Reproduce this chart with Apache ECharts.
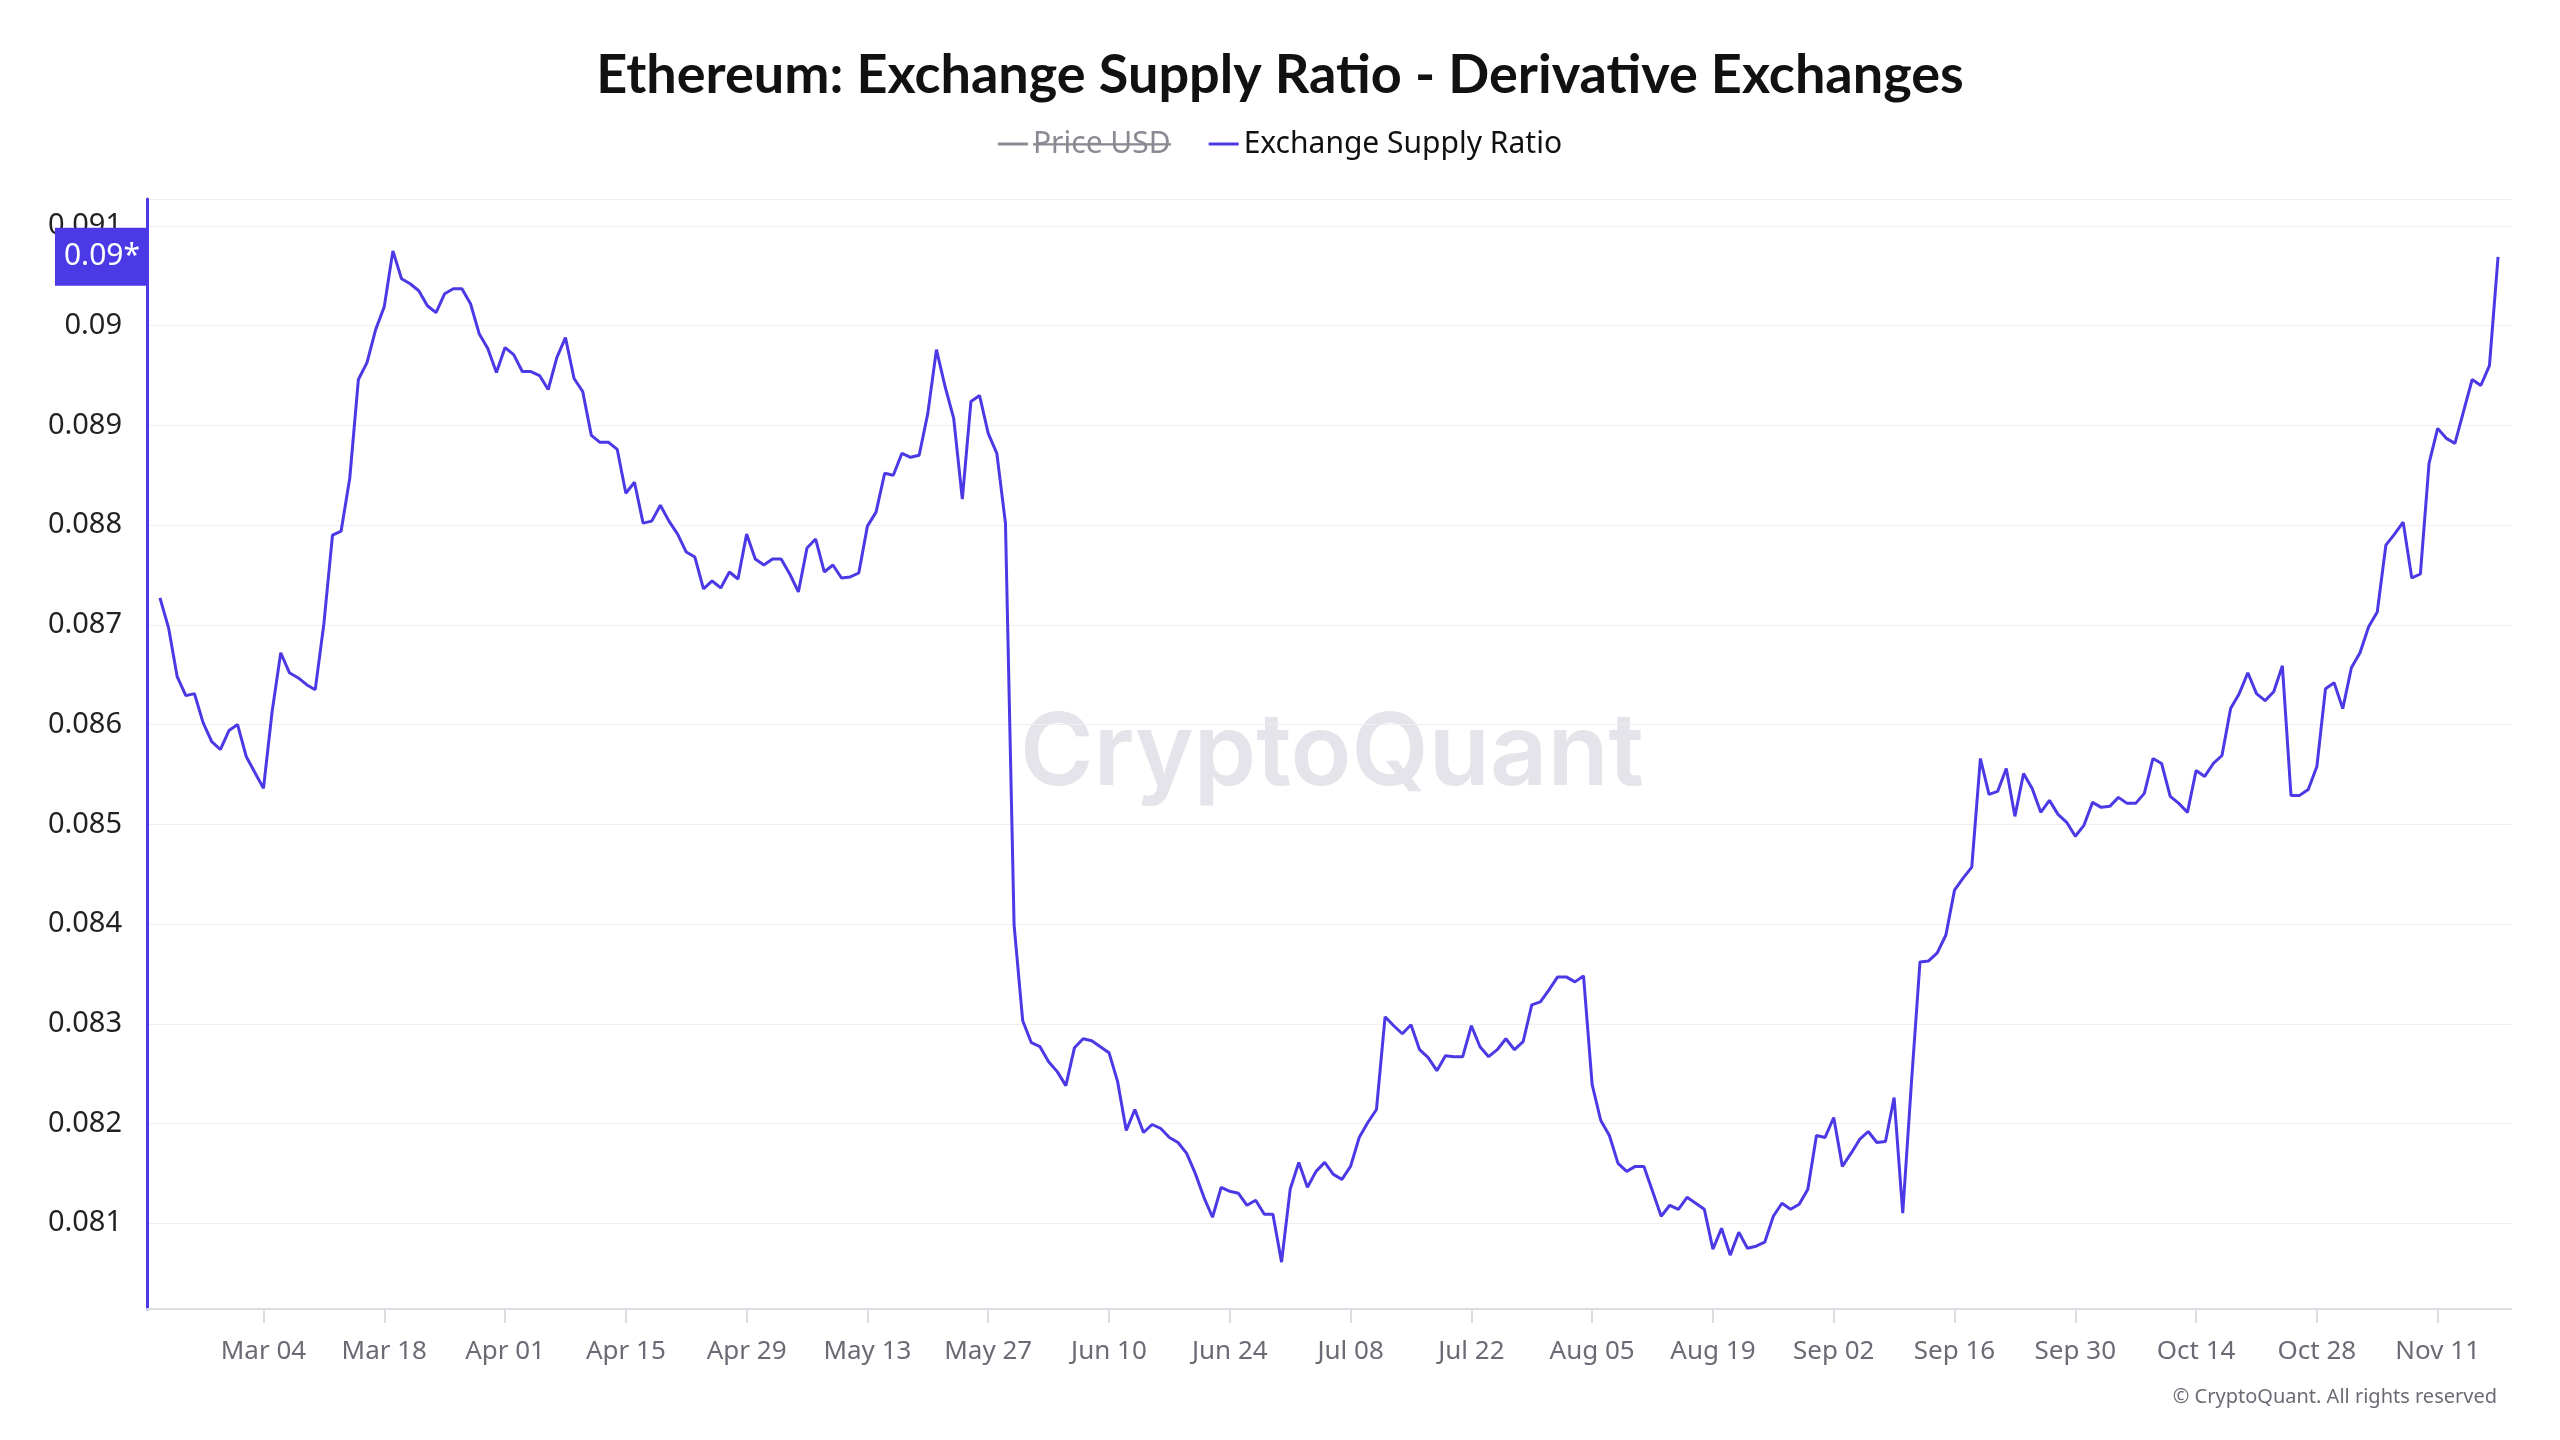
<!DOCTYPE html>
<html>
<head>
<meta charset="utf-8">
<script src="https://cdn.jsdelivr.net/npm/echarts@6/dist/echarts.min.js"></script>
<style>
html,body{margin:0;padding:0;background:#ffffff;}
#chart{width:2560px;height:1440px;}
</style>
</head>
<body>
<div id="chart"></div>
<script>
// ---------------- data ----------------
const titleText = 'Ethereum: Exchange Supply Ratio - Derivative Exchanges';
const seriesNames = ['Price USD', 'Exchange Supply Ratio'];
const firstDate = '2024-02-21';           // date of the first value below (daily data)
const firstTickLabel = 'Mar 04';          // first labelled x tick
const tickStepDays = 14;                  // x ticks every two weeks
const lastValueLabel = '0.09*';           // label shown on the y axis for the latest value
const copyrightText = '\u00A9 CryptoQuant. All rights reserved';
const watermarkText = 'CryptoQuant';

const febVals = [0.08727, 0.08697, 0.08648, 0.08629, 0.08631, 0.08602, 0.08583, 0.08575, 0.08594];
const marVals = [0.08600, 0.08568, 0.08552, 0.08536, 0.08613, 0.08672, 0.08652, 0.08647, 0.08640, 0.08635,
                 0.08701, 0.08790, 0.08794, 0.08847, 0.08946, 0.08963, 0.08996, 0.09019, 0.09075, 0.09047,
                 0.09042, 0.09035, 0.09020, 0.09013, 0.09032, 0.09037, 0.09037, 0.09022, 0.08992, 0.08977, 0.08953];
const aprVals = [0.08978, 0.08971, 0.08954, 0.08954, 0.08950, 0.08936, 0.08968, 0.08988, 0.08947, 0.08934,
                 0.08890, 0.08883, 0.08883, 0.08876, 0.08832, 0.08843, 0.08802, 0.08804, 0.08820, 0.08804,
                 0.08791, 0.08773, 0.08768, 0.08736, 0.08744, 0.08737, 0.08753, 0.08746, 0.08791, 0.08766];
const mayVals = [0.08760, 0.08766, 0.08766, 0.08751, 0.08733, 0.08777, 0.08786, 0.08753, 0.08760, 0.08747,
                 0.08748, 0.08752, 0.08799, 0.08813, 0.08852, 0.08850, 0.08872, 0.08868, 0.08870, 0.08912,
                 0.08976, 0.08939, 0.08907, 0.08826, 0.08924, 0.08930, 0.08892, 0.08872, 0.08802, 0.08399, 0.08303];
const junVals = [0.08281, 0.08277, 0.08262, 0.08252, 0.08238, 0.08276, 0.08285, 0.08283, 0.08277, 0.08271,
                 0.08242, 0.08193, 0.08214, 0.08191, 0.08199, 0.08195, 0.08186, 0.08181, 0.08170, 0.08150,
                 0.08126, 0.08106, 0.08136, 0.08132, 0.08130, 0.08118, 0.08123, 0.08109, 0.08109, 0.08061];
const julVals = [0.08134, 0.08161, 0.08136, 0.08152, 0.08161, 0.08149, 0.08144, 0.08157, 0.08186, 0.08201,
                 0.08214, 0.08307, 0.08298, 0.08290, 0.08299, 0.08274, 0.08266, 0.08253, 0.08268, 0.08267,
                 0.08267, 0.08298, 0.08277, 0.08267, 0.08274, 0.08285, 0.08274, 0.08282, 0.08319, 0.08322, 0.08334];
const augVals = [0.08347, 0.08347, 0.08342, 0.08348, 0.08239, 0.08203, 0.08188, 0.08160, 0.08152, 0.08157,
                 0.08157, 0.08132, 0.08107, 0.08118, 0.08114, 0.08126, 0.08120, 0.08114, 0.08074, 0.08095,
                 0.08068, 0.08091, 0.08075, 0.08077, 0.08081, 0.08107, 0.08120, 0.08114, 0.08119, 0.08134, 0.08188];
const sepVals = [0.08186, 0.08206, 0.08157, 0.08170, 0.08184, 0.08192, 0.08181, 0.08182, 0.08226, 0.08110,
                 0.08240, 0.08362, 0.08363, 0.08371, 0.08389, 0.08434, 0.08446, 0.08457, 0.08566, 0.08530,
                 0.08533, 0.08556, 0.08508, 0.08551, 0.08536, 0.08512, 0.08524, 0.08510, 0.08502, 0.08488];
const octVals = [0.08499, 0.08522, 0.08517, 0.08518, 0.08527, 0.08521, 0.08521, 0.08531, 0.08566, 0.08561,
                 0.08528, 0.08521, 0.08512, 0.08554, 0.08548, 0.08561, 0.08569, 0.08616, 0.08631, 0.08652,
                 0.08631, 0.08624, 0.08633, 0.08659, 0.08529, 0.08529, 0.08535, 0.08558, 0.08636, 0.08642, 0.08616];
const novVals = [0.08657, 0.08672, 0.08698, 0.08713, 0.08780, 0.08791, 0.08803, 0.08747, 0.08751, 0.08862,
                 0.08897, 0.08887, 0.08882, 0.08914, 0.08946, 0.08940, 0.08960, 0.09069];

// ---------------- build ----------------
const ratio = [].concat(febVals, marVals, aprVals, mayVals, junVals, julVals, augVals, sepVals, octVals, novVals);
const MONTHS = ['Jan','Feb','Mar','Apr','May','Jun','Jul','Aug','Sep','Oct','Nov','Dec'];
function fmtDate(d) { return MONTHS[d.getUTCMonth()] + ' ' + String(d.getUTCDate()).padStart(2, '0'); }
const t0 = new Date(firstDate + 'T00:00:00Z').getTime();
// one empty day on each side of the data, as in the reference
const categories = [];
for (let i = -1; i <= ratio.length; i++) categories.push(fmtDate(new Date(t0 + i * 86400000)));
const seriesData = [null].concat(ratio, [null]);
const anchorIdx = categories.indexOf(firstTickLabel);
const isTick = (idx) => idx >= anchorIdx && (idx - anchorIdx) % tickStepDays === 0;

const PURPLE = '#4c39e6';
const GREY = '#8a8a94';
const FONT = '"Noto Sans", "Open Sans", sans-serif';

// strike-through image for the disabled legend entry
const strike = document.createElement('canvas');
strike.width = 4; strike.height = 40;
const sctx = strike.getContext('2d');
sctx.fillStyle = GREY;
sctx.fillRect(0, 19, 4, 3);

const chart = echarts.init(document.getElementById('chart'), null, { renderer: 'canvas' });
chart.setOption({
  animation: false,
  backgroundColor: '#ffffff',
  title: {
    text: titleText, left: 'center', top: 44,
    textStyle: { fontSize: 54, fontWeight: 'bold', color: '#111111', fontFamily: 'Lato, "Noto Sans", sans-serif' }
  },
  legend: {
    top: 124, left: 'center',
    icon: 'rect', itemWidth: 30, itemHeight: 3, itemGap: 38,
    inactiveColor: GREY,
    selected: { 'Price USD': false },
    data: seriesNames,
    formatter: (name) => name === 'Price USD' ? '{s|' + name + '}' : name,
    textStyle: {
      fontSize: 30, color: '#111111', fontFamily: FONT,
      rich: { s: { fontSize: 30, color: GREY, fontFamily: FONT, backgroundColor: { image: strike } } }
    }
  },
  grid: { left: 147, right: 49, top: 199, bottom: 131, containLabel: false, outerBoundsMode: 'none' },
  xAxis: {
    type: 'category', data: categories, boundaryGap: true,
    axisLine: { show: true, lineStyle: { color: '#dcdce3', width: 2 } },
    axisTick: { show: true, alignWithLabel: true, interval: (i) => isTick(i), length: 14,
                lineStyle: { color: '#dcdce3', width: 2 } },
    axisLabel: { interval: (i) => isTick(i), fontSize: 26, color: '#6b6b75', margin: 30, fontFamily: FONT },
    splitLine: { show: false }
  },
  yAxis: {
    type: 'value', min: 0.08014, max: 0.09127, splitNumber: 10,
    axisLine: { show: true, lineStyle: { color: PURPLE, width: 3 } },
    axisTick: { show: false },
    axisLabel: { fontSize: 29, color: '#222222', margin: 25, fontFamily: FONT,
                 showMinLabel: false, showMaxLabel: false },
    splitLine: { show: true, lineStyle: { color: '#efeff3', width: 1 } }
  },
  graphic: [
    { type: 'text', z: 0, silent: true, x: 1332, y: 755,
      style: { text: watermarkText, font: '600 100px Inter, "Noto Sans", sans-serif', fill: '#e4e4ea',
               align: 'center', verticalAlign: 'middle' } },
    { type: 'text', silent: true, right: 63, top: 1387,
      style: { text: copyrightText, font: '20px ' + FONT, fill: '#6b6b75' } }
  ],
  series: [
    { name: 'Price USD', type: 'line', data: [], color: GREY, showSymbol: false },
    {
      name: 'Exchange Supply Ratio', type: 'line', data: seriesData,
      showSymbol: false, symbol: 'none', connectNulls: false,
      color: PURPLE,
      lineStyle: { width: 3, color: PURPLE },
      markLine: {
        silent: true, symbol: ['none', 'none'], animation: false, z: 10, precision: 6,
        lineStyle: { color: 'rgba(0,0,0,0)', width: 0, type: 'solid' },
        emphasis: { disabled: true },
        label: { show: true, position: 'start', distance: 0, formatter: lastValueLabel, color: '#ffffff',
                 backgroundColor: PURPLE, fontSize: 30, fontFamily: FONT, padding: [15, 7, 13, 9] },
        data: [{ yAxis: ratio[ratio.length - 1] }]
      }
    }
  ]
});
</script>
</body>
</html>
